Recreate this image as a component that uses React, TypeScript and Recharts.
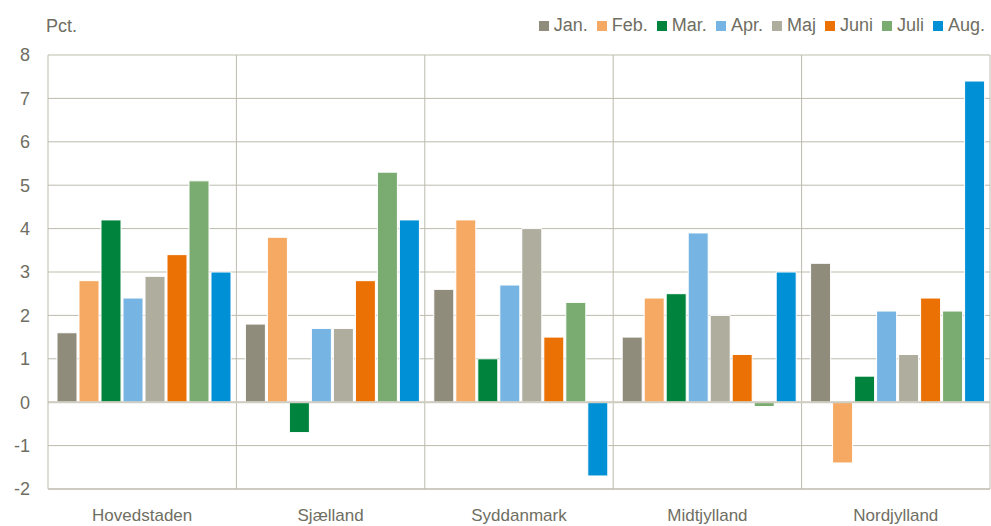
import {
  BarChart,
  Bar,
  XAxis,
  YAxis,
  CartesianGrid,
  Legend,
  ReferenceLine,
} from 'recharts';

const regions = ['Hovedstaden', 'Sjælland', 'Syddanmark', 'Midtjylland', 'Nordjylland'];

const months = ['Jan.', 'Feb.', 'Mar.', 'Apr.', 'Maj', 'Juni', 'Juli', 'Aug.'];
const monthColors = ['#8f8c7c', '#f5a962', '#00843d', '#76b4e3', '#afad9d', '#ec7105', '#7aab70', '#0090d6'];

const jan = [1.6, 1.8, 2.6, 1.5, 3.2];
const feb = [2.8, 3.8, 4.2, 2.4, -1.4];
const mar = [4.2, -0.7, 1.0, 2.5, 0.6];
const apr = [2.4, 1.7, 2.7, 3.9, 2.1];
const maj = [2.9, 1.7, 4.0, 2.0, 1.1];
const juni = [3.4, 2.8, 1.5, 1.1, 2.4];
const juli = [5.1, 5.3, 2.3, -0.1, 2.1];
const aug = [3.0, 4.2, -1.7, 3.0, 7.4];

const series = [jan, feb, mar, apr, maj, juni, juli, aug];
const yTicks = [-2, -1, 0, 1, 2, 3, 4, 5, 6, 7, 8];

const data = regions.map((region, i) => {
  const row: Record<string, string | number> = { region };
  months.forEach((m, j) => {
    row[m] = series[j][i];
  });
  return row;
});

const textColor = '#6f6e62';
const gridColor = '#bdbbad';
const font = '"Liberation Sans", Arial, sans-serif';

// legend drawn in the month order, not sorted
const MonthLegend = () => (
  <div style={{ display: 'flex', justifyContent: 'flex-end', fontSize: 18, color: textColor, fontFamily: font }}>
    {months.map((m, j) => (
      <span key={m} style={{ display: 'inline-flex', alignItems: 'center', marginLeft: j === 0 ? 0 : 9 }}>
        <span style={{ width: 10, height: 10, background: monthColors[j], marginRight: 5, display: 'inline-block' }} />
        {m}
      </span>
    ))}
  </div>
);

const App = () => {
  return (
    <div style={{ position: 'absolute', left: 0, top: 0, width: 991, height: 526, fontFamily: font }}>
      <div style={{ position: 'absolute', left: 46, top: 16, fontSize: 18, color: textColor }}>Pct.</div>
      <BarChart
        width={991}
        height={526}
        data={data}
        margin={{ top: 55, right: 1, left: 0, bottom: 0 }}
        barCategoryGap={9}
        barGap={2}
      >
        <CartesianGrid
          stroke={gridColor}
          strokeWidth={1}
          verticalCoordinatesGenerator={({ offset }: any) =>
            regions.map((_, i) => offset.left + ((i + 1) * offset.width) / regions.length)
          }
        />
        <XAxis
          dataKey="region"
          height={37}
          tickLine={false}
          axisLine={{ stroke: gridColor }}
          tick={{ fill: textColor, fontSize: 17, fontFamily: font }}
          tickMargin={14}
        />
        <YAxis
          width={48}
          domain={[-2, 8]}
          ticks={yTicks}
          interval={0}
          tickLine={false}
          axisLine={{ stroke: gridColor }}
          tick={{ fill: textColor, fontSize: 18, fontFamily: font }}
          tickMargin={12}
        />
        <ReferenceLine y={0} stroke="#cfcdc2" strokeWidth={2} />
        <Legend
          verticalAlign="top"
          align="right"
          content={<MonthLegend />}
          wrapperStyle={{ top: 15, right: 6, height: 0, overflow: 'visible' }}
        />
        {months.map((m, j) => (
          <Bar
            key={m}
            dataKey={m}
            fill={monthColors[j]}
            stroke="#ffffff"
            strokeWidth={1}
            isAnimationActive={false}
          />
        ))}
      </BarChart>
    </div>
  );
};

export default App;
